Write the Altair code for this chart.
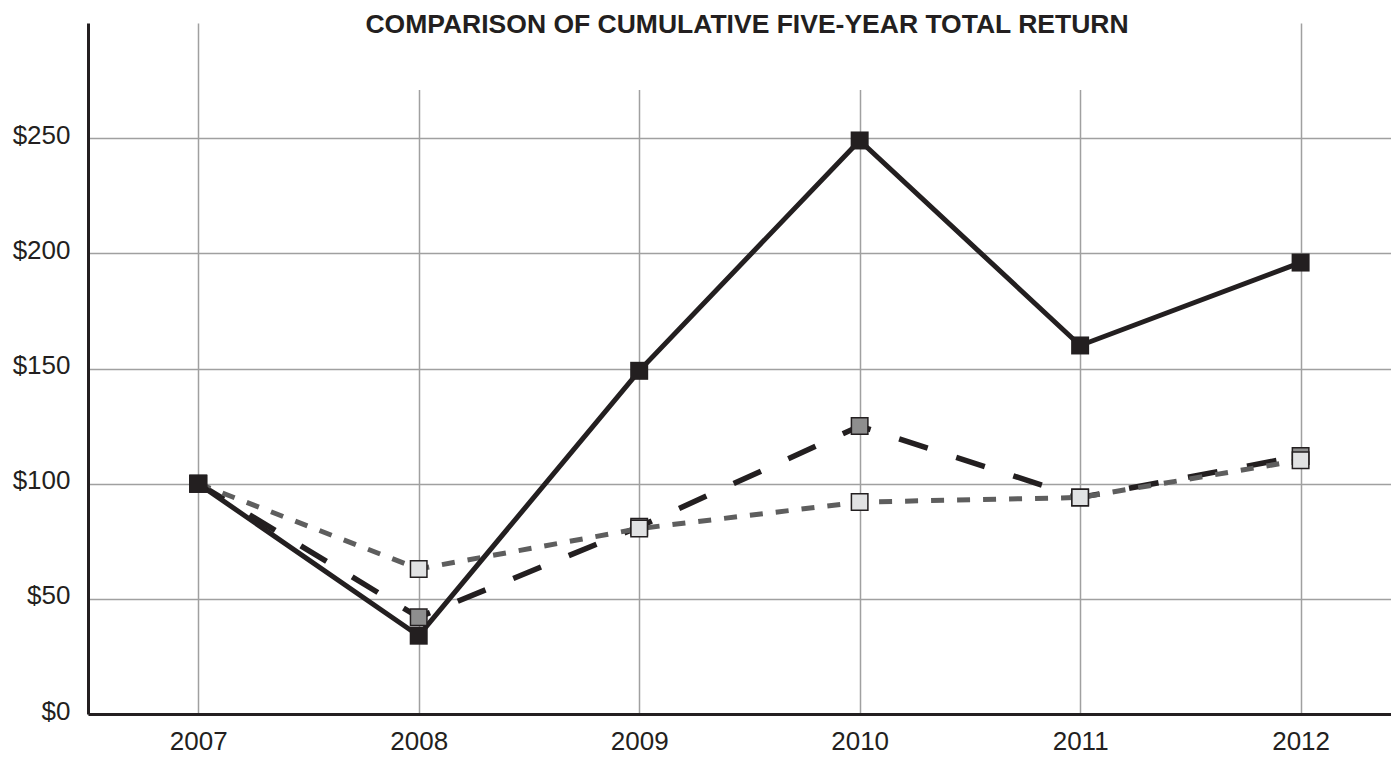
import altair as alt
import pandas as pd

years = [2007, 2008, 2009, 2010, 2011, 2012]
company = [100, 34, 149, 249, 160, 196]
peer_index = [100, 42, 81.3, 125, 94, 112]
market_index = [100, 63, 80.5, 92, 94, 110.2]
y_ticks = [0, 50, 100, 150, 200, 250]
title_text = "COMPARISON OF CUMULATIVE FIVE-YEAR TOTAL RETURN"

FONT = "Liberation Sans"
INK = "#231f20"


def frame(vals):
    return pd.DataFrame({"year": years, "value": vals})


x_enc = alt.X(
    "year:Q",
    scale=alt.Scale(domain=[2006.5, 2012.41], nice=False, zero=False),
    axis=alt.Axis(values=years, format="d", title=None, ticks=False,
                  labelPadding=14, grid=True),
)
y_enc = alt.Y(
    "value:Q",
    scale=alt.Scale(domain=[0, 300], nice=False),
    axis=alt.Axis(values=y_ticks, labelExpr="'$' + datum.value", title=None,
                  ticks=False, labelPadding=18, grid=True, labelOffset=-3),
)

mask = alt.Chart(pd.DataFrame({"k": [0]})).mark_rect(color="white").encode(
    x=alt.value(212), x2=alt.value(1112), y=alt.value(0), y2=alt.value(67)
)

title = alt.Chart(pd.DataFrame({"k": [0]})).mark_text(
    font=FONT, fontSize=26.5, fontWeight="bold", color=INK,
    align="center", baseline="alphabetic"
).encode(x=alt.value(659), y=alt.value(9.5), text=alt.value(title_text))

peer_line = alt.Chart(frame(peer_index)).mark_line(
    color=INK, strokeWidth=5.5, strokeDash=[30, 30], strokeCap="butt"
).encode(x=x_enc, y=y_enc)

market_line = alt.Chart(frame(market_index)).mark_line(
    color="#5e5e5e", strokeWidth=5, strokeDash=[13, 13], strokeCap="butt"
).encode(x=x_enc, y=y_enc)

company_line = alt.Chart(frame(company)).mark_line(
    color=INK, strokeWidth=5
).encode(x=x_enc, y=y_enc)

peer_pts = alt.Chart(frame(peer_index)).mark_point(
    shape="square", filled=True, fill="#8e8e8e", stroke=INK,
    strokeWidth=1.5, size=272, opacity=1
).encode(x=x_enc, y=y_enc)

market_pts = alt.Chart(frame(market_index)).mark_point(
    shape="square", filled=True, fill="#e1e2e3", stroke=INK,
    strokeWidth=1.5, size=272, opacity=1
).encode(x=x_enc, y=y_enc)

company_pts = alt.Chart(frame(company)).mark_point(
    shape="square", filled=True, fill=INK, size=324, opacity=1
).encode(x=x_enc, y=y_enc)

chart = alt.layer(
    mask, peer_line, market_line, company_line,
    peer_pts, market_pts, company_pts, title
).properties(
    width=1303, height=691,
    autosize=alt.AutoSizeParams(type="none"),
    padding={"left": 80, "top": 15, "right": 0, "bottom": 44},
).configure_view(stroke=None).configure_axis(
    labelFont=FONT, labelFontSize=26, labelColor=INK,
    domainColor=INK, domainWidth=3,
    gridColor="#a0a0a0", gridWidth=1.5,
)

chart.save("out.html", embed_options={"renderer": "svg", "actions": False})
